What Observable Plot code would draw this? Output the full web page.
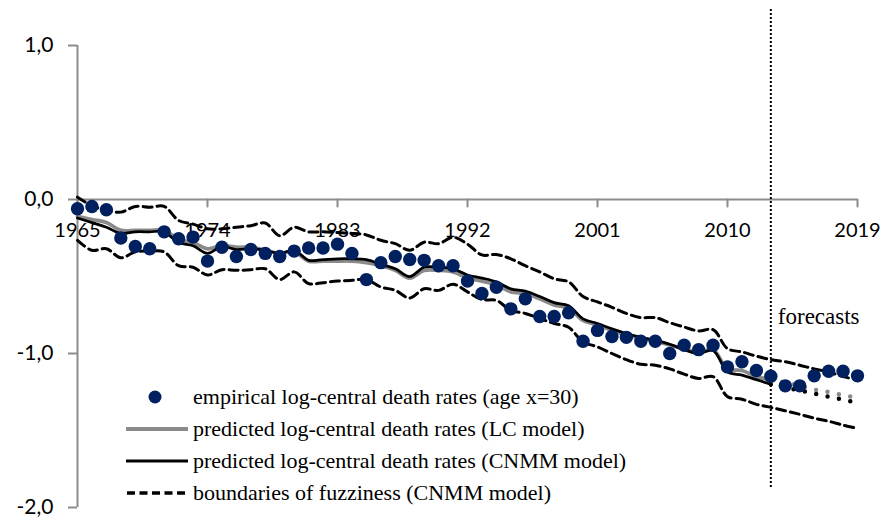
<!DOCTYPE html>
<html><head><meta charset="utf-8">
<script src="https://cdn.jsdelivr.net/npm/d3@7"></script>
<script src="https://cdn.jsdelivr.net/npm/@observablehq/plot@0.6"></script>
<style>
body{margin:0;background:#fff}
#chart{position:relative;width:884px;height:524px}
#legend{position:absolute;left:126px;top:381px;font-family:"Liberation Serif",serif;font-size:22px;color:#000;line-height:1}
.row{display:flex;align-items:center;height:32px;white-space:nowrap}
.row svg{flex:none;margin-right:5px}
</style></head><body><div id="chart"></div>
<script>
const years = d3.range(1965, 2020);
const fitYears = d3.range(1965, 2014);
const fcYears = d3.range(2013, 2020);
const xTicks = [1965, 1974, 1983, 1992, 2001, 2010, 2019];
const yTicks = [-2, -1, 0, 1];

const empirical = [-0.06,-0.045,-0.067,-0.25,-0.305,-0.32,-0.21,-0.255,-0.244,-0.40,
 -0.31,-0.37,-0.325,-0.35,-0.37,-0.335,-0.315,-0.315,-0.29,-0.35,
 -0.52,-0.41,-0.37,-0.39,-0.395,-0.43,-0.43,-0.53,-0.61,-0.57,
 -0.71,-0.645,-0.76,-0.76,-0.735,-0.92,-0.85,-0.89,-0.895,-0.92,
 -0.92,-1.0,-0.946,-0.975,-0.946,-1.087,-1.054,-1.11,-1.147,-1.21,
 -1.21,-1.145,-1.115,-1.115,-1.145];

const cnmm = [-0.12,-0.15,-0.18,-0.22,-0.21,-0.21,-0.21,-0.28,-0.30,-0.35,
 -0.305,-0.325,-0.32,-0.33,-0.35,-0.33,-0.395,-0.39,-0.385,-0.385,
 -0.39,-0.42,-0.45,-0.50,-0.44,-0.44,-0.45,-0.49,-0.51,-0.535,
 -0.58,-0.595,-0.63,-0.67,-0.69,-0.775,-0.805,-0.84,-0.87,-0.895,
 -0.915,-0.94,-0.975,-1.0,-0.98,-1.12,-1.14,-1.17,-1.2];

const lc = [-0.11,-0.13,-0.15,-0.20,-0.20,-0.20,-0.20,-0.26,-0.28,-0.32,
 -0.30,-0.31,-0.31,-0.33,-0.35,-0.34,-0.40,-0.40,-0.40,-0.40,
 -0.41,-0.43,-0.46,-0.51,-0.46,-0.46,-0.47,-0.51,-0.53,-0.555,
 -0.60,-0.61,-0.645,-0.685,-0.705,-0.785,-0.815,-0.85,-0.88,-0.90,
 -0.92,-0.945,-0.97,-0.99,-0.975,-1.10,-1.11,-1.15,-1.17];

const cnmmForecast = [-1.2,-1.22,-1.24,-1.26,-1.28,-1.30,-1.32];
const lcForecast = [-1.17,-1.19,-1.21,-1.235,-1.25,-1.27,-1.29];

const upper = [0.015,-0.04,-0.07,-0.082,-0.045,-0.05,-0.045,-0.136,-0.16,-0.19,
 -0.19,-0.18,-0.17,-0.153,-0.235,-0.18,-0.21,-0.21,-0.215,-0.22,
 -0.23,-0.265,-0.287,-0.33,-0.277,-0.287,-0.245,-0.29,-0.36,-0.357,
 -0.385,-0.43,-0.47,-0.515,-0.535,-0.63,-0.665,-0.70,-0.74,-0.767,
 -0.767,-0.80,-0.828,-0.854,-0.845,-0.968,-0.99,-1.017,-1.04,-1.054,
 -1.076,-1.10,-1.12,-1.15,-1.17];

const lower = [-0.266,-0.33,-0.32,-0.378,-0.34,-0.335,-0.34,-0.43,-0.44,-0.49,
 -0.456,-0.46,-0.456,-0.45,-0.52,-0.47,-0.546,-0.54,-0.53,-0.525,
 -0.52,-0.568,-0.59,-0.64,-0.58,-0.59,-0.55,-0.60,-0.65,-0.655,
 -0.72,-0.74,-0.773,-0.805,-0.83,-0.925,-0.957,-1.0,-1.04,-1.07,
 -1.076,-1.10,-1.134,-1.162,-1.15,-1.28,-1.297,-1.33,-1.35,-1.372,
 -1.395,-1.42,-1.44,-1.465,-1.486];

const forecastStart = 2013;
const legendLabels = [
  "empirical log-central death rates (age x=30)",
  "predicted log-central death rates (LC model)",
  "predicted log-central death rates (CNMM model)",
  "boundaries of fuzziness (CNMM model)"
];
const forecastLabel = "forecasts";

const pts = (xs, vs) => xs.map((x, i) => ({x, y: vs[i]}));
const navy = "#002060", gray = "#8c8c8c", lcGray = "#8a8a8a";
const tickShape = {draw(ctx, l) { ctx.moveTo(0, 0); ctx.lineTo(0, -l); }};
const fmt = d => d.toFixed(1).replace(".", ",");

const curve = "catmull-rom";
const plot = Plot.plot({
  width: 884, height: 524,
  marginLeft: 77, marginRight: 27, marginTop: 45, marginBottom: 17,
  style: {fontFamily: "Lato, sans-serif", background: "#fff", overflow: "visible"},
  x: {domain: [1965, 2019], axis: null},
  y: {domain: [-2, 1], axis: null},
  marks: [
    Plot.ruleX([1965], {y1: -2, y2: 1, stroke: gray, strokeWidth: 2}),
    Plot.axisY({ticks: yTicks, label: null, tickSize: 9, tickPadding: 15, tickFormat: fmt, fontSize: 21, stroke: gray, fill: "#000", strokeWidth: 2}),
    Plot.ruleY([0], {x1: 1965, x2: 2019, stroke: gray, strokeWidth: 2}),
    Plot.vector(xTicks, {x: d => d, y: 0, length: 7, rotate: 180, anchor: "start", shape: tickShape, stroke: gray, strokeWidth: 2}),
    Plot.text(xTicks, {x: d => d, y: 0, text: d => String(d), dy: 31, fontSize: 20, fill: "#000"}),
    Plot.line(pts(years, upper), {x: "x", y: "y", curve, stroke: "#000", strokeWidth: 3, strokeDasharray: "9,5"}),
    Plot.line(pts(years, lower), {x: "x", y: "y", curve, stroke: "#000", strokeWidth: 3, strokeDasharray: "9,5"}),
    Plot.line(pts(fitYears, lc), {x: "x", y: "y", curve, stroke: lcGray, strokeWidth: 3.75}),
    Plot.line(pts(fitYears, cnmm), {x: "x", y: "y", curve, stroke: "#000", strokeWidth: 2.75}),
    Plot.line(pts(fcYears, lcForecast), {x: "x", y: "y", stroke: lcGray, strokeWidth: 4.5, strokeDasharray: "0,11.6", strokeLinecap: "round"}),
    Plot.line(pts(fcYears, cnmmForecast), {x: "x", y: "y", stroke: "#000", strokeWidth: 4.5, strokeDasharray: "0,11.6", strokeLinecap: "round"}),
    Plot.ruleX([forecastStart], {stroke: "#000", strokeWidth: 2, strokeDasharray: "2,2", insetTop: -36, insetBottom: 20}),
    Plot.dot(pts(years, empirical), {x: "x", y: "y", r: 6.7, fill: navy, stroke: "none"}),
    Plot.text([forecastLabel], {x: forecastStart, y: -0.76, dx: 7, textAnchor: "start", fontSize: 23, fontFamily: "Liberation Serif, serif", fill: "#000"})
  ]
});

const chart = document.getElementById("chart");
chart.appendChild(plot);

const legend = document.createElement("div");
legend.id = "legend";
const swatches = [
  `<svg width="62" height="32"><circle cx="29" cy="16" r="6.5" fill="${navy}"/></svg>`,
  `<svg width="62" height="32"><line x1="0" x2="62" y1="16" y2="16" stroke="${lcGray}" stroke-width="4"/></svg>`,
  `<svg width="62" height="32"><line x1="0" x2="62" y1="16" y2="16" stroke="#000" stroke-width="3"/></svg>`,
  `<svg width="62" height="32"><line x1="1" x2="62" y1="16" y2="16" stroke="#000" stroke-width="3.5" stroke-dasharray="8,4.5"/></svg>`
];
legendLabels.forEach((t, i) => {
  const row = document.createElement("div");
  row.className = "row";
  row.innerHTML = swatches[i] + `<span>${t}</span>`;
  legend.appendChild(row);
});
chart.appendChild(legend);
</script></body></html>
